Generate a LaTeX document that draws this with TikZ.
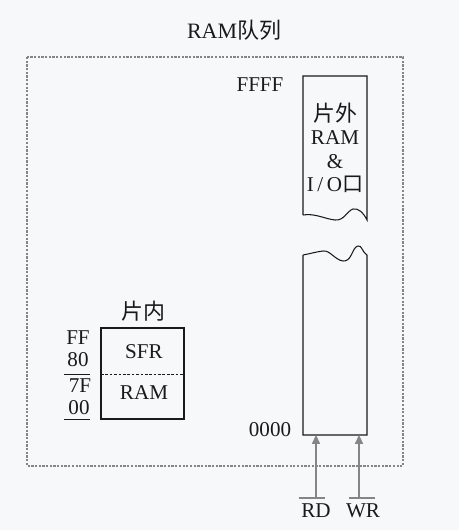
\documentclass[tikz,border=0pt]{standalone}
\usepackage{fontspec}
\setmainfont{Liberation Serif}
\newfontfamily\cjk{Noto Sans CJK SC}
\usetikzlibrary{arrows.meta, positioning, calc}
\definecolor{pagebg}{HTML}{F7F8FA}
\definecolor{siggray}{HTML}{858585}
\definecolor{inkdark}{HTML}{1A1A1A}

\begin{document}
\begin{tikzpicture}[x=0.02cm, y=-0.02cm,
    lbl/.style={font=\fontsize{12}{14}\selectfont, text=inkdark, inner sep=0pt},
    zh/.style={font=\fontsize{12.5}{14}\selectfont\cjk, text=inkdark, inner sep=0pt},
    col/.style={draw=inkdark, line width=0.6pt},
    outer/.style={draw=siggray, line width=1pt, dash pattern=on 1.3pt off 0.8pt},
    sig/.style={draw=siggray, line width=1pt, -{Triangle[length=5pt, width=4.5pt]}},
    bar/.style={draw=siggray, line width=0.9pt},
]
    \fill[pagebg] (0,0) rectangle (459,530);
    \useasboundingbox (0,0) rectangle (459,530);

    % title and frame
    \node[lbl, font=\fontsize{12.5}{14}\selectfont] (title) at (234,30) {RAM{\cjk 队列}};
    \draw[outer] (27,57) rectangle (403,466);

    % external memory column
    \draw[col] (303,215) -- (303,76) -- (367,76) -- (367,220)
        .. controls (363,212) and (358,208) .. (353,209)
        .. controls (347,211) and (344,221) .. (335,220)
        .. controls (325,219) and (315,213) .. (303,215);
    \draw[col] (303,255) -- (303,435) -- (367,435) -- (367,255)
        .. controls (362,252) and (362,245) .. (358,246)
        .. controls (352,247) and (352,262) .. (343,261)
        .. controls (335,260) and (330,250) .. (323,251)
        .. controls (315,252) and (309,254) .. (303,255);
    \node[lbl, align=center, font=\fontsize{12}{13.3}\selectfont] (ext) at (335,148)
        {{\cjk\fontsize{12.5}{13.3}\selectfont 片外}\\RAM\\\&\\I\,/\,O{\cjk 口}};
    \node[lbl] (ffff) at (260,85) {FFFF};
    \node[lbl] (zero) at (270,430) {0000};

    % read / write lines
    \coordinate (rdin) at (316,435);
    \coordinate (wrin) at (359,435);
    \node[lbl, anchor=north] (rd) at (316,503) {RD};
    \node[lbl, anchor=north] (wr) at (363,503) {WR};
    \draw[bar] ($(rd.north)+(-17,-5)$) -- ($(rd.north)+(9,-5)$);
    \draw[bar] ($(wr.north)+(-14,-5)$) -- ($(wr.north)+(12,-5)$);
    \draw[sig] ($(rd.north)+(0,-5)$) -- (rdin);
    \draw[sig] ($(wr.north)+(-4,-5)$) -- (wrin);

    % internal RAM block
    \node[zh] (int) at (143,311) {片内};
    \draw[col] (101,328) rectangle (184,419);
    \draw[col, line width=0.5pt, dash pattern=on 1.5pt off 1pt] (101,374) -- (184,374);
    \node[lbl] (sfr) at (144,352) {SFR};
    \node[lbl] (iram) at (144,393) {RAM};

    \node[lbl] (ff) at (78,338) {FF};
    \node[lbl] (h80) at (78,360) {80};
    \node[lbl] (h7f) at (80,386) {7F};
    \node[lbl] (h00) at (79,408) {00};
    \draw[col, line width=0.5pt] (64,374) -- (90,374);
    \draw[col, line width=0.5pt] (64,419) -- (90,419);
\end{tikzpicture}
\end{document}
